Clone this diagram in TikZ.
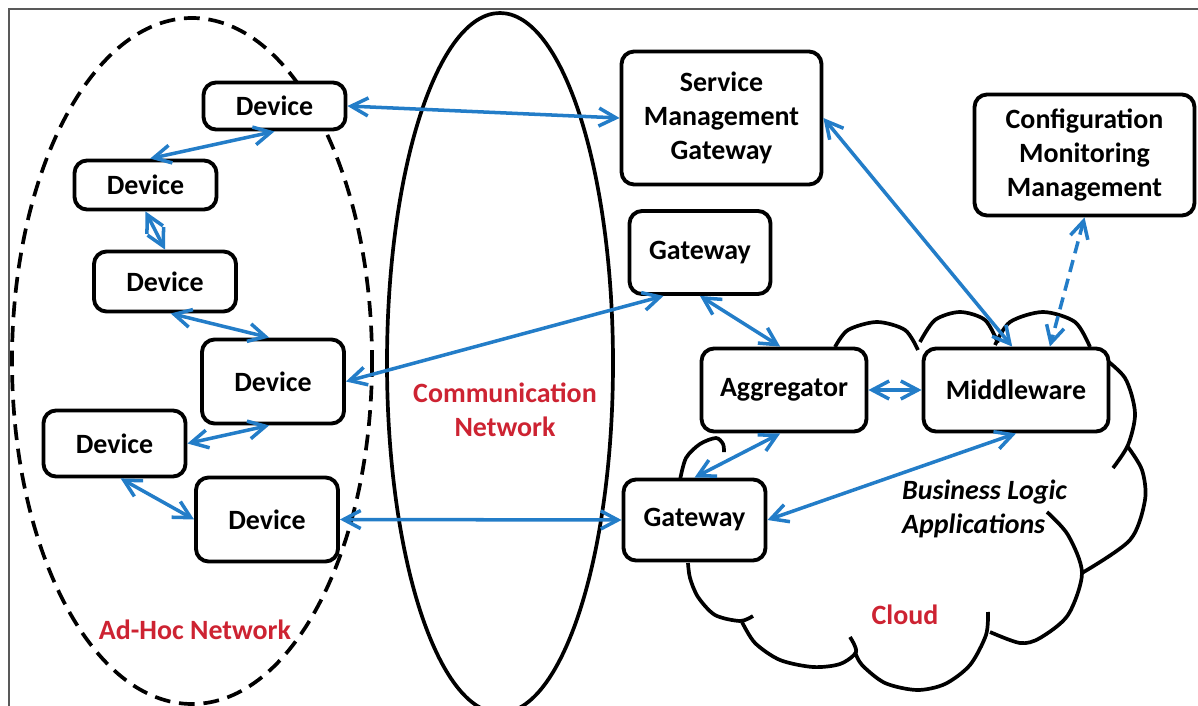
\documentclass[tikz,border=0pt]{standalone}
\usepackage{fontspec}
\setmainfont{Carlito}
\usetikzlibrary{arrows.meta}

\definecolor{linkblue}{RGB}{35,125,200}
\definecolor{labelred}{RGB}{205,35,50}

\begin{document}
\begin{tikzpicture}[x=0.02cm, y=-0.02cm,
  box/.style={draw, line width=2.2pt, rounded corners=0.25cm, fill=white, align=center,
    inner sep=0pt, font=\fontsize{15.9}{19.3}\selectfont\bfseries},
  device/.style={box, minimum width=2.84cm},
  link/.style={draw=linkblue, line width=2pt,
    {Straight Barb[length=3.4mm,width=3.6mm]}-{Straight Barb[length=3.4mm,width=3.6mm]}},
  tag/.style={text=labelred, align=center, font=\fontsize{15.9}{19.3}\selectfont\bfseries},
  outline/.style={line width=2.1pt}]
\useasboundingbox (0,0) rectangle (1198,706);
% Frame
\draw[gray!70!black, line width=0.6pt] (9,706) -- (9,9) -- (1198,9);
% Networks
\draw[outline, dash pattern=on 9pt off 5pt] (192,361) ellipse [x radius=180, y radius=343];
\draw[outline] (500,363) ellipse [x radius=113, y radius=350];
% Cloud
\draw[outline] plot[smooth] coordinates {(680,480) (686,458) (700,444) (716,438) (723,444) (724,452)};
\draw[outline] plot[smooth] coordinates {(835,347) (848,330) (877,322) (905,330) (918,350)};
\draw[outline] plot[smooth] coordinates {(920,342) (935,320) (960,312) (985,320) (998,343)};
\draw[outline] plot[smooth] coordinates {(995,345) (1010,322) (1043,312) (1075,322) (1090,347)};
\draw[outline] plot[smooth] coordinates {(1100,355) (1125,378) (1135,413) (1128,445) (1113,468)};
\draw[outline] plot[smooth] coordinates {(1128,447) (1142,470) (1145,500) (1130,540) (1082,573)};
\draw[outline] plot[smooth] coordinates {(1047,512) (1068,535) (1082,573) (1068,615) (1040,638) (1020,643) (990,632)};
\draw[outline] plot[smooth] coordinates {(988,612) (986,635) (970,665) (945,684) (917,690) (885,683) (862,665) (855,652)};
\draw[outline] plot[smooth] coordinates {(850,637) (856,652) (840,664) (813,667) (780,660) (755,643) (742,622)};
\draw[outline] plot[smooth] coordinates {(753,616) (740,621) (715,615) (698,597) (690,578) (688,563)};
% Devices
\node[device, minimum height=0.94cm] (d1) at (274.5,106) {Device};
\node[device, minimum height=0.98cm] (d2) at (145.5,185) {Device};
\node[device, minimum height=1.2cm] (d3) at (165,281.5) {Device};
\node[device, minimum height=1.68cm] (d4) at (273,381.5) {Device};
\node[device, minimum height=1.32cm] (d5) at (114.5,443.5) {Device};
\node[device, minimum height=1.68cm] (d6) at (267,519.5) {Device};
% Gateways and services
\node[box, minimum width=4cm, minimum height=2.66cm] (smg) at (721.5,118) {Service\\Management\\Gateway};
\node[box, minimum width=2.82cm, minimum height=1.66cm] (gw1) at (700,252.5) {Gateway};
\node[box, minimum width=3.3cm, minimum height=1.66cm] (agg) at (784,390) {Aggregator};
\node[box, minimum width=3.7cm, minimum height=1.66cm] (mw) at (1016,390) {Middleware};
\node[box, minimum width=2.84cm, minimum height=1.62cm] (gw2) at (694.5,520) {Gateway};
\node[box, minimum width=4.4cm, minimum height=2.42cm] (cmm) at (1084.5,155) {Configuration\\Monitoring\\Management};
% Labels
\node[tag] (comm) at (505,410) {Communication\\Network};
\node[tag] (adhoc) at (195,630) {Ad-Hoc Network};
\node[tag] (cloud) at (905,615) {Cloud};
\node[anchor=west, align=left, font=\fontsize{15.9}{19.3}\selectfont\bfseries\itshape] (apps) at (896,509) {Business Logic\\Applications};
% Links
\draw[link] (d1.east) -- (smg.west);
\draw[link] (d1.south) -- (d2.80);
\draw[link] (d2.south) -- (d3.north);
\draw[link] (d3.-80) -- (d4.95);
\draw[link] (d4.east) -- (gw1.230);
\draw[link] (d4.265) -- (d5.east);
\draw[link] (d5.-80) -- (d6.west);
\draw[link] (d6.east) -- (gw2.west);
\draw[link] (gw1.south) -- (agg.95);
\draw[link] (agg.east) -- (mw.west);
\draw[link] (agg.265) -- (gw2.north);
\draw[link] (mw.south) -- (gw2.east);
\draw[link] (smg.east) -- (mw.95);
\draw[link, dash pattern=on 7pt off 4pt] (cmm.south) -- (mw.52);
\end{tikzpicture}
\end{document}
